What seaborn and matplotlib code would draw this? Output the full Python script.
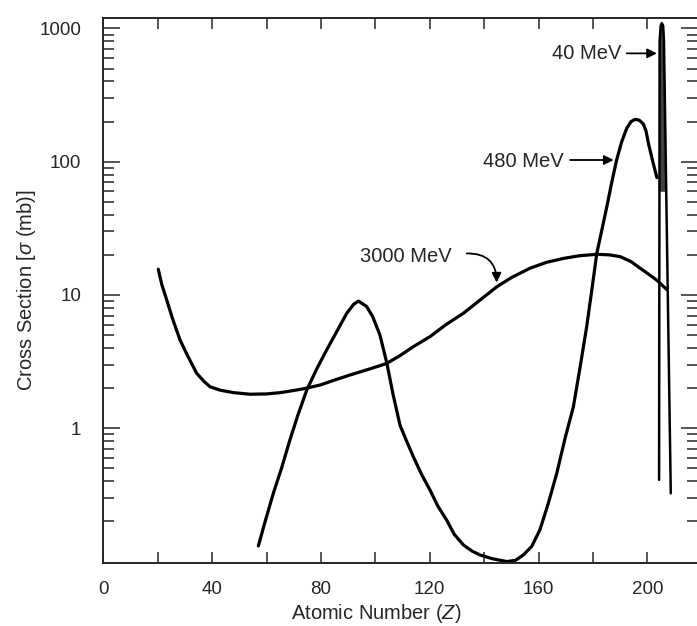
import matplotlib
matplotlib.use("Agg")
import matplotlib.pyplot as plt
import matplotlib.ticker as mticker
import numpy as np
import seaborn as sns

# 3000 MeV curve (Z, sigma in mb)
z_3000 = [20.2, 21.5, 23.3, 25.5, 28.2, 31, 34.3, 37, 39.2, 43, 48, 53.9, 60, 65, 70,
          74.8, 80, 85, 90.7, 97, 101.7, 104.2, 109, 114, 120.1, 126, 132.4, 138,
          144.6, 150, 156.9, 163, 169.1, 175, 181.4, 186, 190, 194, 197.3, 200.5,
          203.5, 207.1]
s_3000 = [15.6, 12.0, 9.2, 6.6, 4.6, 3.5, 2.59, 2.25, 2.05, 1.93, 1.85, 1.80, 1.81,
          1.85, 1.92, 2.0, 2.12, 2.3, 2.51, 2.75, 2.95, 3.07, 3.5, 4.1, 4.87, 6.0, 7.3,
          9.0, 11.5, 13.5, 15.9, 17.6, 18.8, 19.7, 20.2, 20.0, 19.4, 17.8, 15.9, 14.3,
          12.9, 11.0]

# 480 MeV curve
z_480 = [57, 59.5, 62.5, 65.5, 68.6, 71.5, 74.8, 78.5, 82.1, 86, 89.5, 92, 93.8,
         96.8, 99, 101.7, 104.2, 106.5, 109.1, 111.5, 114, 117, 120.1, 123, 126.2,
         129, 132.4, 135.5, 138.5, 143, 148.3, 151.5, 154.4, 157.5, 160.5, 163.5,
         166.7, 169.8, 172.8, 175.3, 177.7, 179.6, 181.4, 183.3, 185.1, 186.9, 188.7,
         190.5, 192.4, 194, 195.5, 197, 198.5, 199.5, 200.4, 202, 203.5]
s_480 = [0.131, 0.2, 0.325, 0.5, 0.817, 1.25, 1.94, 2.8, 3.87, 5.4, 7.3, 8.5, 9.0,
         8.2, 6.9, 5.0, 3.1, 1.8, 1.05, 0.8, 0.61, 0.45, 0.344, 0.26, 0.205, 0.16,
         0.133, 0.12, 0.112, 0.105, 0.1, 0.102, 0.112, 0.13, 0.173, 0.27, 0.46, 0.85,
         1.45, 2.9, 5.8, 11, 20.5, 31, 46, 70, 103, 140, 178, 200, 208, 205, 192, 170,
         137, 100, 76]

# 40 MeV spike
z_40 = [204.3, 204.5, 204.9, 205.3, 205.8, 206.1, 208.6]
s_40 = [0.41, 800, 1050, 1096, 1050, 800, 0.325]

x_major = list(range(0, 220, 20))
x_labels = [str(v) if v % 40 == 0 else "" for v in x_major]
y_major = [1, 10, 100, 1000]
y_labels = ["1", "10", "100", "1000"]

sns.set_style("ticks")
plt.rcParams["font.family"] = ["Liberation Sans", "DejaVu Sans"]
plt.rcParams["mathtext.fontset"] = "custom"
plt.rcParams["mathtext.rm"] = "Liberation Sans"
plt.rcParams["mathtext.it"] = "Liberation Sans:italic"

fig = plt.figure(figsize=(6.97, 6.26), dpi=100)
ax = fig.add_axes([0.1482, 0.1011, 0.8532, 0.8701])
ax.set_yscale("log")

line_kw = dict(ax=ax, sort=False, estimator=None, color="black", legend=False)
sns.lineplot(x=z_3000, y=s_3000, lw=2.3, **line_kw)
sns.lineplot(x=z_480, y=s_480, lw=2.3, **line_kw)
sns.lineplot(x=z_40, y=s_40, lw=1.8, **line_kw)

# dark filled tip of the 40 MeV spike
ax.fill_betweenx([60, 800, 1050], [204.45, 204.5, 204.9], [206.8, 206.1, 205.8],
                 color="0.25", lw=0)

ax.set_xlim(0, 218.6)
ax.set_ylim(0.098, 1197)

ax.set_xticks(x_major)
ax.set_xticklabels(x_labels)
ax.yaxis.set_major_locator(mticker.FixedLocator(y_major))
ax.yaxis.set_major_formatter(mticker.FixedFormatter(y_labels))
ax.yaxis.set_minor_locator(mticker.LogLocator(base=10, subs=np.arange(2, 10)))
ax.yaxis.set_minor_formatter(mticker.NullFormatter())

ax.tick_params(axis="x", which="major", direction="in", top=True, length=8,
               width=1.1, pad=13, labelsize=13.5)
ax.tick_params(axis="y", which="major", direction="in", right=True, length=12,
               width=1.1, pad=16, labelsize=13.5)
ax.tick_params(axis="y", which="minor", direction="in", right=True, length=8,
               width=1.1)
for sp in ax.spines.values():
    sp.set_linewidth(1.4)
    sp.set_visible(True)

ax.set_xlabel("Atomic Number ($Z$)", fontsize=14.5)
ax.xaxis.set_label_coords(0.4586, -0.073)
ax.set_ylabel("Cross Section [$\\sigma$ (mb)]", fontsize=14.5, labelpad=1)

arrow = dict(arrowstyle="-|>", color="black", lw=1.3, mutation_scale=14,
             shrinkA=0, shrinkB=0)
ax.text(190.6, 650, "40 MeV", ha="right", va="center", fontsize=14.5)
ax.annotate("", xy=(203.5, 650), xytext=(192.4, 650), arrowprops=arrow)
ax.text(169.1, 101, "480 MeV", ha="right", va="center", fontsize=14.5)
ax.annotate("", xy=(187.6, 103), xytext=(171.6, 103), arrowprops=arrow)
ax.text(128.1, 19.4, "3000 MeV", ha="right", va="center", fontsize=14.5)
ax.annotate("", xy=(144.6, 12.4), xytext=(133.6, 20.5),
            arrowprops=dict(arrow, connectionstyle="arc3,rad=-0.5"))

fig.savefig("out.png", dpi=100)
plt.close(fig)
